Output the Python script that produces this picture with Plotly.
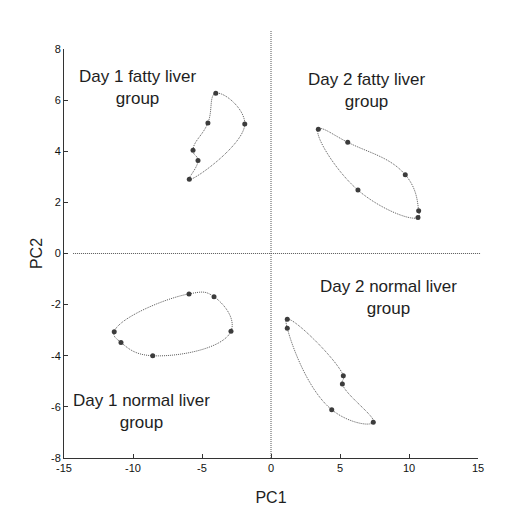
import plotly.graph_objects as go

# ---- data (points listed in outline order) ----
d1_fatty_x = [-5.92, -5.29, -5.65, -4.57, -4.00, -1.90]
d1_fatty_y = [2.90, 3.64, 4.04, 5.11, 6.27, 5.07]

d2_fatty_x = [3.43, 5.56, 9.73, 10.70, 10.65, 6.30]
d2_fatty_y = [4.86, 4.35, 3.08, 1.67, 1.41, 2.48]

d1_normal_x = [-11.36, -5.94, -4.13, -2.90, -8.57, -10.87]
d1_normal_y = [-3.06, -1.58, -1.69, -3.04, -4.00, -3.48]

d2_normal_x = [1.18, 5.24, 5.17, 7.41, 4.40, 1.18]
d2_normal_y = [-2.57, -4.78, -5.11, -6.60, -6.11, -2.92]

group_labels = ["Day 1 fatty liver<br>group", "Day 2 fatty liver<br>group",
                "Day 1 normal liver<br>group", "Day 2 normal liver<br>group"]
label_x = [-9.7, 6.95, -9.4, 8.5]
label_y = [6.5, 6.38, -6.18, -1.74]

x_ticks = [-15, -10, -5, 0, 5, 10, 15]
y_ticks = [-8, -6, -4, -2, 0, 2, 4, 6, 8]

FONT = "Liberation Sans, Arial, sans-serif"

groups = [(d1_fatty_x, d1_fatty_y), (d2_fatty_x, d2_fatty_y),
          (d1_normal_x, d1_normal_y), (d2_normal_x, d2_normal_y)]

fig = go.Figure()
for gx, gy in groups:
    fig.add_trace(go.Scatter(
        x=gx + [gx[0]], y=gy + [gy[0]], mode="lines",
        line=dict(shape="spline", smoothing=1.3, color="#5a5a5a",
                  width=1, dash="1px,1px"),
        hoverinfo="skip", showlegend=False))
for gx, gy in groups:
    fig.add_trace(go.Scatter(
        x=gx, y=gy, mode="markers",
        marker=dict(size=5, color="#3c3c3c"),
        showlegend=False))

for t, lx, ly in zip(group_labels, label_x, label_y):
    fig.add_annotation(x=lx, y=ly, xref="x", yref="y", text=t,
                       showarrow=False,
                       font=dict(family=FONT, size=17, color="#1e1e1e"))

# reference lines at zero
fig.add_shape(type="line", xref="x", yref="paper", x0=0, x1=0, y0=0, y1=1.046,
              line=dict(color="#555555", width=1, dash="1px,1px"))
fig.add_shape(type="line", xref="paper", yref="y", x0=0.022, x1=1.005, y0=0, y1=0,
              line=dict(color="#555555", width=1, dash="1px,1px"))

axis_common = dict(showline=True, linecolor="#333333", linewidth=1,
                   ticks="inside", ticklen=4, tickwidth=1, tickcolor="#333333",
                   showgrid=False, zeroline=False, mirror=False,
                   tickfont=dict(family=FONT, size=11, color="#111111"))

fig.update_xaxes(range=[-15, 15], tickvals=x_ticks,
                 ticktext=[str(v) for v in x_ticks], **axis_common,
                 title=dict(text="PC1", font=dict(family=FONT, size=16, color="#1e1e1e"),
                            standoff=18))
fig.update_yaxes(range=[-8, 8], tickvals=y_ticks,
                 ticktext=[str(v) for v in y_ticks], **axis_common,
                 title=dict(text="PC2", font=dict(family=FONT, size=16, color="#1e1e1e"),
                            standoff=4))

fig.update_layout(width=505, height=508,
                  margin=dict(l=56, r=35, t=41, b=58),
                  plot_bgcolor="white", paper_bgcolor="white",
                  showlegend=False)

fig.write_html("out.html")
